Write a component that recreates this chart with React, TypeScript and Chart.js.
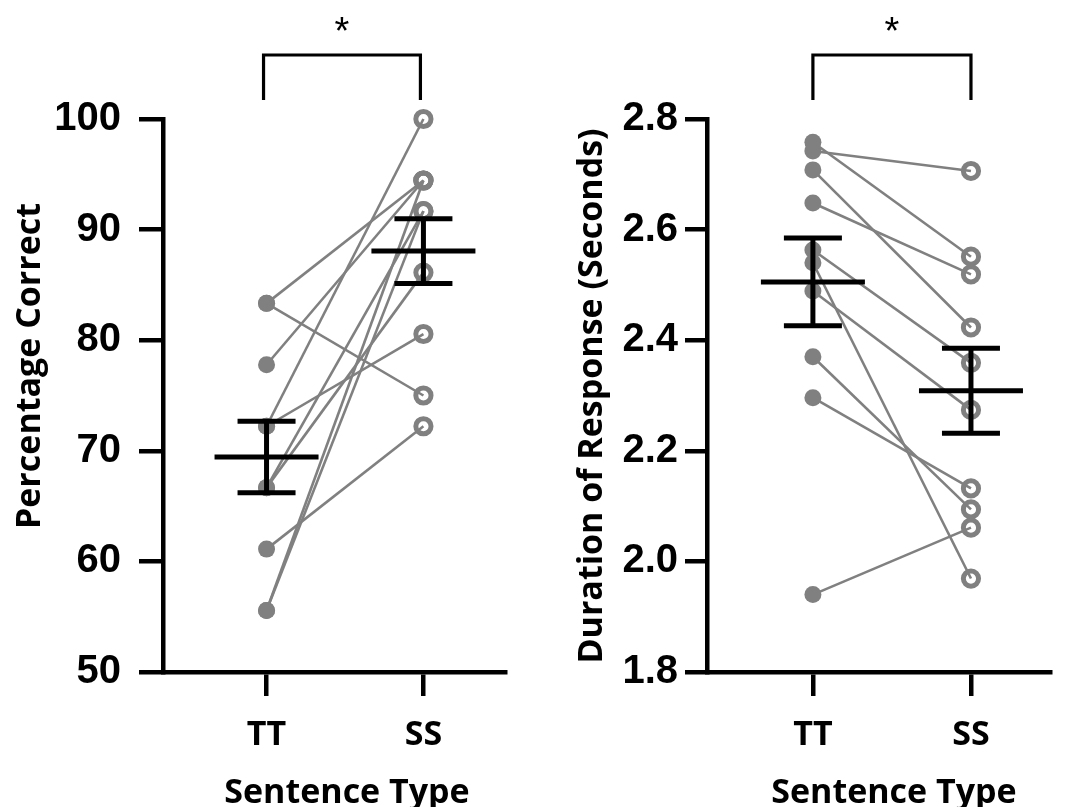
import { useEffect, useRef } from "react";
import { Chart, registerables } from "chart.js";

Chart.register(...registerables);

// Condition labels on the x axis
const groups = ["TT", "SS"];

// Per-participant accuracy (%) for each sentence type
const accuracyTT = [83.33, 83.33, 77.78, 72.22, 72.22, 66.67, 66.67, 61.11, 55.56, 55.56];
const accuracySS = [94.44, 75.0, 94.44, 100.0, 80.56, 86.11, 91.67, 72.22, 94.44, 91.67];

// Per-participant response duration (s) for each sentence type
const durationTT = [2.758, 2.742, 2.708, 2.648, 2.563, 2.54, 2.489, 2.37, 2.296, 1.94];
const durationSS = [2.551, 2.706, 2.423, 2.519, 2.359, 1.969, 2.274, 2.094, 2.132, 2.061];

// Axis ticks
const accuracyTicks = [50, 60, 70, 80, 90, 100];
const durationTicks = [1.8, 2.0, 2.2, 2.4, 2.6, 2.8];

const accuracyTitle = "Percentage Correct";
const durationTitle = "Duration of Response (Seconds)";
const xTitle = "Sentence Type";
const significance = "*";

const GRAY = "#808080";
const TICK_FONT = '"Liberation Sans", Arial, sans-serif';
const LABEL_FONT = '"Open Sans", "Noto Sans", sans-serif';

const mean = (v: number[]) => v.reduce((a, b) => a + b, 0) / v.length;
const sem = (v: number[]) => {
  const m = mean(v);
  const sd = Math.sqrt(v.reduce((a, b) => a + (b - m) * (b - m), 0) / (v.length - 1));
  return sd / Math.sqrt(v.length);
};

type Panel = {
  tt: number[];
  ss: number[];
  ticks: number[];
  decimals: number;
  title: string;
  canvasWidth: number;
  axisWidth: number;
  rightPad: number;
  labelPad: number;
  tickLen: number;
  titleX: number;
  titleY: number;
  xMin: number;
  xMax: number;
  bracketShift: number;
};

const panels: Panel[] = [
  {
    tt: accuracyTT,
    ss: accuracySS,
    ticks: accuracyTicks,
    decimals: 0,
    title: accuracyTitle,
    canvasWidth: 533,
    axisWidth: 163,
    rightPad: 28,
    labelPad: 18,
    tickLen: 24,
    titleX: 40,
    titleY: 366,
    xMin: -0.66,
    xMax: 1.52,
    bracketShift: -3,
  },
  {
    tt: durationTT,
    ss: durationSS,
    ticks: durationTicks,
    decimals: 1,
    title: durationTitle,
    canvasWidth: 534,
    axisWidth: 174,
    rightPad: 17,
    labelPad: 7,
    tickLen: 22,
    titleX: 69,
    titleY: 396,
    xMin: -0.67,
    xMax: 1.5,
    bracketShift: 0,
  },
];

function buildChart(canvas: HTMLCanvasElement, p: Panel) {
  const datasets = p.tt.map((v, i) => ({
    data: [
      { x: 0, y: v },
      { x: 1, y: p.ss[i] },
    ],
    borderColor: GRAY,
    borderWidth: 2.6,
    pointRadius: [8.5, 7.6],
    pointBorderWidth: [0, 5],
    pointBackgroundColor: [GRAY, "rgba(0,0,0,0)"],
    pointBorderColor: GRAY,
    pointStyle: "circle",
    clip: false as const,
  }));

  const decor = {
    id: "decor",
    afterDatasetsDraw(chart: any) {
      const { ctx } = chart;
      const x = chart.scales.x;
      const y = chart.scales.y;
      ctx.save();
      ctx.strokeStyle = "#000";
      ctx.lineWidth = 5;
      ctx.lineCap = "butt";
      [p.tt, p.ss].forEach((vals, c) => {
        const m = mean(vals);
        const s = sem(vals);
        const cx = x.getPixelForValue(c);
        const ym = y.getPixelForValue(m);
        const yHi = y.getPixelForValue(m + s);
        const yLo = y.getPixelForValue(m - s);
        ctx.beginPath();
        ctx.moveTo(cx - 52, ym);
        ctx.lineTo(cx + 52, ym);
        ctx.moveTo(cx, yHi);
        ctx.lineTo(cx, yLo);
        ctx.moveTo(cx - 29, yHi);
        ctx.lineTo(cx + 29, yHi);
        ctx.moveTo(cx - 29, yLo);
        ctx.lineTo(cx + 29, yLo);
        ctx.stroke();
      });
      ctx.restore();
    },
    afterDraw(chart: any) {
      const { ctx } = chart;
      const x = chart.scales.x;
      const x0 = x.getPixelForValue(0);
      const x1 = x.getPixelForValue(1);
      ctx.save();
      ctx.fillStyle = "#000";

      // y-axis title
      ctx.font = `bold 34px ${LABEL_FONT}`;
      ctx.textAlign = "center";
      ctx.textBaseline = "alphabetic";
      ctx.save();
      ctx.translate(p.titleX, p.titleY);
      ctx.rotate(-Math.PI / 2);
      ctx.fillText(p.title, 0, 0);
      ctx.restore();

      // x-axis title
      ctx.fillText(xTitle, (x0 + x1) / 2 + 2, 803);

      // significance bracket
      const b0 = x0 + p.bracketShift;
      const b1 = x1 + p.bracketShift;
      ctx.strokeStyle = "#000";
      ctx.lineWidth = 3.2;
      ctx.lineJoin = "miter";
      ctx.beginPath();
      ctx.moveTo(b0, 100);
      ctx.lineTo(b0, 55);
      ctx.lineTo(b1, 55);
      ctx.lineTo(b1, 100);
      ctx.stroke();

      ctx.font = `38px ${TICK_FONT}`;
      ctx.fillText(significance, (b0 + b1) / 2, 44);
      ctx.restore();
    },
  };

  return new Chart(canvas, {
    type: "line",
    data: { datasets },
    plugins: [decor],
    options: {
      animation: false,
      responsive: false,
      maintainAspectRatio: false,
      events: [],
      layout: { padding: { top: 119, left: 0, right: p.rightPad, bottom: 0 } },
      plugins: { legend: { display: false }, tooltip: { enabled: false } },
      scales: {
        x: {
          type: "linear",
          min: p.xMin,
          max: p.xMax,
          afterBuildTicks: (s: any) => {
            s.ticks = [{ value: 0 }, { value: 1 }];
          },
          afterFit: (s: any) => {
            s.height = 135;
          },
          grid: {
            drawOnChartArea: false,
            drawTicks: true,
            tickLength: 24,
            lineWidth: 4.5,
            color: "#000",
          },
          border: { display: true, width: 4.5, color: "#000" },
          ticks: {
            autoSkip: false,
            maxRotation: 0,
            padding: 19,
            color: "#000",
            font: { family: LABEL_FONT, size: 34, weight: "bold" },
            callback: (v: any) => groups[Math.round(Number(v))] ?? "",
          },
        },
        y: {
          type: "linear",
          min: p.ticks[0],
          max: p.ticks[p.ticks.length - 1],
          afterBuildTicks: (s: any) => {
            s.ticks = p.ticks.map((v) => ({ value: v }));
          },
          afterFit: (s: any) => {
            s.width = p.axisWidth;
          },
          grid: {
            drawOnChartArea: false,
            drawTicks: true,
            tickLength: p.tickLen,
            lineWidth: 4.5,
            color: "#000",
          },
          border: { display: true, width: 4.5, color: "#000" },
          ticks: {
            autoSkip: false,
            padding: p.labelPad,
            color: "#000",
            font: { family: TICK_FONT, size: 40, weight: "bold" },
            callback: (v: any) => Number(v).toFixed(p.decimals),
          },
        },
      },
    },
  } as any);
}

export default function App() {
  const leftRef = useRef<HTMLCanvasElement>(null);
  const rightRef = useRef<HTMLCanvasElement>(null);

  useEffect(() => {
    const charts: Chart[] = [];
    if (leftRef.current) charts.push(buildChart(leftRef.current, panels[0]));
    if (rightRef.current) charts.push(buildChart(rightRef.current, panels[1]));
    return () => charts.forEach((c) => c.destroy());
  }, []);

  return (
    <div
      style={{
        position: "absolute",
        left: 0,
        top: 0,
        width: 1067,
        height: 807,
        background: "#fff",
        overflow: "hidden",
      }}
    >
      <canvas
        ref={leftRef}
        width={panels[0].canvasWidth}
        height={807}
        style={{ position: "absolute", left: 0, top: 0 }}
      />
      <canvas
        ref={rightRef}
        width={panels[1].canvasWidth}
        height={807}
        style={{ position: "absolute", left: 533, top: 0 }}
      />
    </div>
  );
}
